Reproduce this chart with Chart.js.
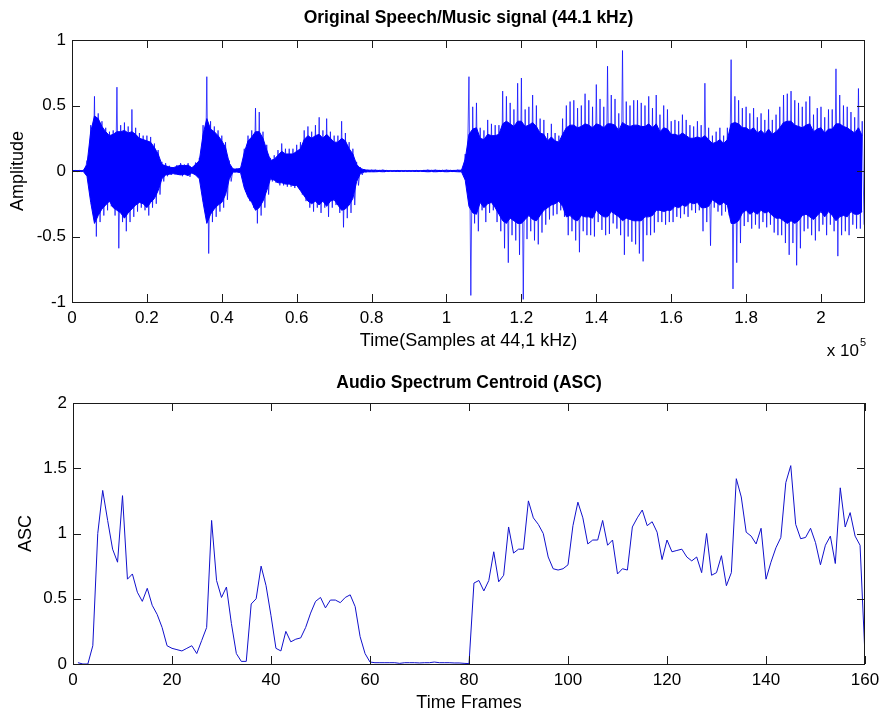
<!DOCTYPE html>
<html>
<head>
<meta charset="utf-8">
<title>Speech/Music signal and ASC</title>
<script src="https://cdn.jsdelivr.net/npm/chart.js@4.4.1/dist/chart.umd.min.js"></script>
<style>
  html, body { margin: 0; padding: 0; background: #fff; }
  #wrap { position: relative; width: 880px; height: 713px; overflow: hidden; }
  canvas { position: absolute; left: 0; }
  #signal { top: 0; }
  #asc { top: 360px; }
</style>
</head>
<body>
<div id="wrap">
  <canvas id="signal" width="880" height="360"></canvas>
  <canvas id="asc" width="880" height="353"></canvas>
</div>
<script>
// Waveform, one value every 0.01 x 10^5 samples (0 .. 2.11).
// waveHigh/waveLow: outer spikes; coreHigh/coreLow: the dense solid part.
const waveStep = 0.01;
const waveHigh = [
  0.005, 0.005, 0.005, 0.005, 0.08, 0.35, 0.57, 0.44, 0.38, 0.33,
  0.30, 0.31, 0.64, 0.35, 0.37, 0.34, 0.47, 0.33, 0.29, 0.27,
  0.27, 0.26, 0.21, 0.16, 0.07, 0.06, 0.04, 0.03, 0.045, 0.06,
  0.05, 0.06, 0.03, 0.065, 0.10, 0.35, 0.72, 0.38, 0.34, 0.31,
  0.27, 0.22, 0.08, 0.02, 0.02, 0.025, 0.17, 0.27, 0.31, 0.48,
  0.45, 0.30, 0.20, 0.10, 0.12, 0.16, 0.21, 0.17, 0.17, 0.17,
  0.20, 0.22, 0.31, 0.34, 0.30, 0.35, 0.41, 0.31, 0.40, 0.30,
  0.27, 0.27, 0.38, 0.29, 0.22, 0.17, 0.07, 0.03, 0.015, 0.01,
  0.01, 0.01, 0.008, 0.01, 0.005, 0.004, 0.004, 0.005, 0.004, 0.004,
  0.004, 0.004, 0.005, 0.004, 0.008, 0.01, 0.008, 0.01, 0.008, 0.008,
  0.01, 0.008, 0.008, 0.01, 0.01, 0.13, 0.72, 0.49, 0.52, 0.33,
  0.31, 0.39, 0.36, 0.35, 0.35, 0.61, 0.57, 0.52, 0.47, 0.67,
  0.71, 0.47, 0.49, 0.58, 0.50, 0.40, 0.39, 0.29, 0.36, 0.29,
  0.27, 0.40, 0.50, 0.53, 0.54, 0.48, 0.50, 0.59, 0.54, 0.49,
  0.66, 0.55, 0.49, 0.80, 0.58, 0.55, 0.44, 0.92, 0.53, 0.50,
  0.54, 0.54, 0.52, 0.50, 0.57, 0.48, 0.58, 0.43, 0.50, 0.47,
  0.38, 0.39, 0.38, 0.43, 0.39, 0.35, 0.34, 0.38, 0.35, 0.67,
  0.33, 0.27, 0.30, 0.33, 0.27, 0.33, 0.85, 0.57, 0.54, 0.48,
  0.49, 0.44, 0.48, 0.41, 0.44, 0.39, 0.47, 0.39, 0.43, 0.49,
  0.58, 0.59, 0.61, 0.54, 0.52, 0.49, 0.53, 0.57, 0.43, 0.48,
  0.49, 0.41, 0.47, 0.47, 0.78, 0.58, 0.50, 0.49, 0.45, 0.41, 0.63, 0.38
];
const waveLow = [
  -0.005, -0.005, -0.005, -0.005, -0.06, -0.28, -0.50, -0.39, -0.34, -0.30,
  -0.27, -0.34, -0.59, -0.39, -0.46, -0.39, -0.35, -0.31, -0.28, -0.30,
  -0.34, -0.28, -0.25, -0.18, -0.08, -0.04, -0.03, -0.025, -0.03, -0.04,
  -0.03, -0.045, -0.02, -0.04, -0.08, -0.28, -0.63, -0.39, -0.35, -0.31,
  -0.28, -0.22, -0.08, -0.01, -0.01, -0.015, -0.16, -0.23, -0.28, -0.40,
  -0.34, -0.28, -0.18, -0.08, -0.09, -0.11, -0.11, -0.12, -0.12, -0.13,
  -0.13, -0.18, -0.23, -0.28, -0.31, -0.28, -0.32, -0.28, -0.35, -0.28,
  -0.26, -0.32, -0.43, -0.36, -0.32, -0.26, -0.11, -0.03, -0.01, -0.008,
  -0.008, -0.008, -0.006, -0.008, -0.004, -0.003, -0.003, -0.004, -0.003, -0.003,
  -0.003, -0.003, -0.004, -0.003, -0.006, -0.008, -0.006, -0.008, -0.006, -0.006,
  -0.008, -0.006, -0.006, -0.008, -0.008, -0.10, -0.95, -0.40, -0.46, -0.30,
  -0.39, -0.32, -0.30, -0.39, -0.46, -0.59, -0.70, -0.49, -0.53, -0.64,
  -0.98, -0.52, -0.46, -0.53, -0.56, -0.47, -0.41, -0.37, -0.34, -0.33,
  -0.30, -0.35, -0.49, -0.46, -0.53, -0.62, -0.46, -0.49, -0.49, -0.50,
  -0.39, -0.45, -0.49, -0.48, -0.40, -0.44, -0.49, -0.64, -0.50, -0.54,
  -0.56, -0.63, -0.69, -0.49, -0.49, -0.47, -0.39, -0.39, -0.41, -0.39,
  -0.39, -0.35, -0.36, -0.33, -0.35, -0.30, -0.32, -0.30, -0.46, -0.39,
  -0.57, -0.28, -0.31, -0.34, -0.31, -0.34, -0.90, -0.70, -0.55, -0.42,
  -0.39, -0.44, -0.41, -0.44, -0.39, -0.43, -0.41, -0.47, -0.49, -0.49,
  -0.55, -0.64, -0.55, -0.72, -0.59, -0.46, -0.44, -0.49, -0.53, -0.46,
  -0.41, -0.49, -0.41, -0.46, -0.65, -0.49, -0.46, -0.49, -0.41, -0.44, -0.44, -0.41
];
const coreHigh = [
  0.003, 0.003, 0.003, 0.003, 0.05, 0.30, 0.42, 0.40, 0.34, 0.30,
  0.27, 0.28, 0.30, 0.30, 0.31, 0.29, 0.30, 0.28, 0.25, 0.24,
  0.23, 0.22, 0.18, 0.13, 0.05, 0.04, 0.03, 0.025, 0.035, 0.045,
  0.04, 0.045, 0.025, 0.05, 0.08, 0.28, 0.40, 0.32, 0.30, 0.27,
  0.23, 0.18, 0.06, 0.015, 0.015, 0.02, 0.14, 0.23, 0.26, 0.30,
  0.30, 0.25, 0.16, 0.08, 0.09, 0.12, 0.15, 0.13, 0.13, 0.13,
  0.15, 0.17, 0.24, 0.27, 0.25, 0.27, 0.28, 0.25, 0.28, 0.25,
  0.22, 0.22, 0.25, 0.23, 0.17, 0.13, 0.05, 0.02, 0.01, 0.006,
  0.006, 0.006, 0.004, 0.006, 0.003, 0.002, 0.002, 0.003, 0.002, 0.002,
  0.002, 0.002, 0.003, 0.002, 0.004, 0.006, 0.004, 0.006, 0.004, 0.004,
  0.006, 0.004, 0.004, 0.006, 0.006, 0.09, 0.28, 0.32, 0.33, 0.25,
  0.24, 0.28, 0.27, 0.27, 0.28, 0.36, 0.38, 0.36, 0.34, 0.38,
  0.38, 0.34, 0.35, 0.37, 0.34, 0.29, 0.28, 0.23, 0.26, 0.23,
  0.22, 0.28, 0.33, 0.35, 0.35, 0.33, 0.34, 0.36, 0.35, 0.33,
  0.36, 0.35, 0.33, 0.36, 0.36, 0.35, 0.31, 0.37, 0.35, 0.34,
  0.35, 0.35, 0.34, 0.34, 0.36, 0.33, 0.36, 0.30, 0.33, 0.32,
  0.28, 0.28, 0.27, 0.29, 0.27, 0.25, 0.25, 0.26, 0.25, 0.27,
  0.24, 0.21, 0.22, 0.24, 0.21, 0.24, 0.36, 0.37, 0.36, 0.33,
  0.33, 0.31, 0.33, 0.29, 0.31, 0.28, 0.32, 0.28, 0.30, 0.33,
  0.37, 0.38, 0.38, 0.35, 0.34, 0.33, 0.35, 0.36, 0.30, 0.32,
  0.33, 0.29, 0.32, 0.32, 0.36, 0.36, 0.34, 0.33, 0.31, 0.29, 0.33, 0.27
];
const coreLow = [
  -0.003, -0.003, -0.003, -0.003, -0.04, -0.24, -0.40, -0.34, -0.29, -0.26,
  -0.23, -0.28, -0.30, -0.32, -0.36, -0.32, -0.29, -0.26, -0.24, -0.25,
  -0.28, -0.24, -0.21, -0.15, -0.06, -0.03, -0.025, -0.02, -0.025, -0.03,
  -0.025, -0.035, -0.015, -0.03, -0.06, -0.24, -0.40, -0.33, -0.29, -0.26,
  -0.24, -0.18, -0.06, -0.008, -0.008, -0.012, -0.13, -0.20, -0.24, -0.30,
  -0.28, -0.23, -0.15, -0.06, -0.07, -0.09, -0.09, -0.10, -0.10, -0.11,
  -0.11, -0.15, -0.19, -0.23, -0.25, -0.23, -0.26, -0.23, -0.27, -0.23,
  -0.22, -0.26, -0.30, -0.29, -0.26, -0.21, -0.08, -0.02, -0.008, -0.006,
  -0.006, -0.006, -0.004, -0.006, -0.003, -0.002, -0.002, -0.003, -0.002, -0.002,
  -0.002, -0.002, -0.003, -0.002, -0.004, -0.006, -0.004, -0.006, -0.004, -0.004,
  -0.006, -0.004, -0.004, -0.006, -0.006, -0.07, -0.27, -0.32, -0.33, -0.24,
  -0.28, -0.25, -0.24, -0.28, -0.33, -0.38, -0.40, -0.36, -0.38, -0.40,
  -0.40, -0.37, -0.34, -0.37, -0.38, -0.34, -0.30, -0.28, -0.26, -0.25,
  -0.23, -0.27, -0.35, -0.34, -0.37, -0.38, -0.34, -0.35, -0.35, -0.36,
  -0.30, -0.33, -0.35, -0.35, -0.31, -0.33, -0.35, -0.38, -0.36, -0.37,
  -0.38, -0.38, -0.38, -0.35, -0.35, -0.34, -0.30, -0.30, -0.31, -0.30,
  -0.30, -0.27, -0.28, -0.26, -0.27, -0.24, -0.25, -0.24, -0.28, -0.28,
  -0.27, -0.22, -0.24, -0.26, -0.24, -0.26, -0.40, -0.40, -0.38, -0.32,
  -0.30, -0.33, -0.31, -0.33, -0.30, -0.32, -0.31, -0.34, -0.36, -0.36,
  -0.38, -0.40, -0.38, -0.40, -0.38, -0.34, -0.33, -0.35, -0.37, -0.34,
  -0.31, -0.35, -0.31, -0.34, -0.38, -0.35, -0.34, -0.35, -0.31, -0.33, -0.33, -0.31
];

// Audio Spectrum Centroid, frames 1 .. 160.
const ascValues = [
  0.01, 0.00, 0.00, 0.14, 1.00, 1.33, 1.10, 0.88, 0.78, 1.29,
  0.65, 0.69, 0.55, 0.48, 0.58, 0.45, 0.38, 0.28, 0.14, 0.12,
  0.11, 0.10, 0.12, 0.14, 0.08, 0.18, 0.28, 1.10, 0.64, 0.51,
  0.59, 0.31, 0.08, 0.02, 0.02, 0.46, 0.50, 0.75, 0.60, 0.37,
  0.12, 0.10, 0.25, 0.17, 0.19, 0.20, 0.28, 0.39, 0.48, 0.51,
  0.43, 0.49, 0.49, 0.47, 0.51, 0.53, 0.44, 0.21, 0.08, 0.015,
  0.01, 0.01, 0.01, 0.01, 0.01, 0.005, 0.01, 0.01, 0.01, 0.008,
  0.01, 0.01, 0.015, 0.01, 0.01, 0.01, 0.008, 0.008, 0.005, 0.003,
  0.62, 0.64, 0.56, 0.64, 0.86, 0.63, 0.68, 1.05, 0.85, 0.88,
  0.88, 1.25, 1.12, 1.07, 1.00, 0.82, 0.73, 0.72, 0.73, 0.76,
  1.06, 1.24, 1.12, 0.92, 0.95, 0.95, 1.10, 0.91, 0.95, 0.69,
  0.73, 0.72, 1.05, 1.12, 1.18, 1.06, 1.09, 1.01, 0.80, 0.95,
  0.86, 0.87, 0.88, 0.82, 0.79, 0.82, 0.70, 1.00, 0.68, 0.70,
  0.83, 0.60, 0.70, 1.42, 1.28, 1.01, 0.98, 0.92, 1.04, 0.65,
  0.78, 0.89, 0.97, 1.39, 1.52, 1.07, 0.96, 0.97, 1.04, 0.93,
  0.76, 0.91, 0.98, 0.77, 1.35, 1.05, 1.16, 0.98, 0.91, 0.06
];

const signalXMax = 2.1175;   // x 10^5 samples
const FONT = "'Liberation Sans', Arial, Helvetica, sans-serif";
const AXIS_COLOR = '#1a1a1a';
const TICK_LEN = 8;
const WAVE_BLUE = '#0000ff';
const SPIKE_BLUE = 'rgba(0, 0, 255, 0.7)';
const ASC_BLUE = '#1010cc';

function tickText(v) {
  return String(Math.round(v * 100) / 100);
}

// MATLAB style box: frame, inward ticks on every side, titles and labels.
const matlabFrame = {
  id: 'matlabFrame',
  afterDatasetsDraw(chart, args, opts) {
    const ctx = chart.ctx;
    const a = chart.chartArea;
    const xs = chart.scales.x, ys = chart.scales.y;
    ctx.save();
    ctx.strokeStyle = AXIS_COLOR;
    ctx.lineWidth = 1;
    ctx.beginPath();
    xs.ticks.forEach(t => {
      const px = Math.round(xs.getPixelForValue(t.value)) + 0.5;
      ctx.moveTo(px, a.bottom); ctx.lineTo(px, a.bottom - TICK_LEN);
      ctx.moveTo(px, a.top); ctx.lineTo(px, a.top + TICK_LEN);
    });
    ys.ticks.forEach(t => {
      const py = Math.round(ys.getPixelForValue(t.value)) + 0.5;
      ctx.moveTo(a.left, py); ctx.lineTo(a.left + TICK_LEN, py);
      ctx.moveTo(a.right, py); ctx.lineTo(a.right - TICK_LEN, py);
    });
    ctx.stroke();
    ctx.strokeRect(Math.round(a.left) + 0.5, Math.round(a.top) + 0.5,
                   Math.round(a.width) - 1, Math.round(a.height));

    const cx = (a.left + a.right) / 2;
    ctx.fillStyle = '#000';
    ctx.textAlign = 'center';
    ctx.textBaseline = 'alphabetic';
    ctx.font = 'bold 17.5px ' + FONT;
    ctx.fillText(opts.title, cx, a.top - opts.titleGap);
    ctx.font = '18px ' + FONT;
    ctx.fillText(opts.xLabel, cx, a.bottom + opts.xLabelGap);

    if (opts.exponent) {
      ctx.textAlign = 'right';
      ctx.font = '17px ' + FONT;
      ctx.fillText('x 10', a.right - 6, a.bottom + 54);
      ctx.textAlign = 'left';
      ctx.font = '11px ' + FONT;
      ctx.fillText(opts.exponent, a.right - 5, a.bottom + 44);
    }

    ctx.font = '18px ' + FONT;
    ctx.translate(opts.yLabelX, (a.top + a.bottom) / 2);
    ctx.rotate(-Math.PI / 2);
    ctx.textAlign = 'center';
    ctx.textBaseline = 'middle';
    ctx.fillText(opts.yLabel, 0, 0);
    ctx.restore();
  }
};

function axisTicks(extra) {
  return Object.assign({
    color: '#000',
    font: { family: FONT, size: 17 },
    maxRotation: 0,
    autoSkip: false,
    includeBounds: false,
    callback: tickText
  }, extra);
}

// keep label overflow from shrinking the plot box
function fixedX(h) {
  return s => { s.height = h; s.paddingLeft = 0; s.paddingRight = 0; };
}
function fixedY(w) {
  return s => { s.width = w; s.paddingTop = 0; s.paddingBottom = 0; };
}

// ---- top chart: waveform ----
const spikePoints = [];
waveHigh.forEach((hi, i) => {
  spikePoints.push({ x: i * waveStep, y: hi });
  spikePoints.push({ x: i * waveStep + waveStep / 2, y: waveLow[i] });
});
const coreHighPts = coreHigh.map((v, i) => ({ x: i * waveStep, y: v }));
const coreLowPts = coreLow.map((v, i) => ({ x: i * waveStep, y: v }));

new Chart(document.getElementById('signal'), {
  type: 'line',
  data: {
    datasets: [
      { data: coreHighPts, borderColor: WAVE_BLUE, borderWidth: 1, pointRadius: 0, backgroundColor: WAVE_BLUE, fill: '+1', tension: 0 },
      { data: coreLowPts, borderColor: WAVE_BLUE, borderWidth: 1, pointRadius: 0, backgroundColor: WAVE_BLUE, fill: false, tension: 0 },
      { data: spikePoints, borderColor: SPIKE_BLUE, borderWidth: 1, pointRadius: 0, fill: false, tension: 0 }
    ]
  },
  options: {
    responsive: false,
    animation: false,
    events: [],
    layout: { padding: { top: 40, right: 15, left: 0, bottom: 0 } },
    plugins: {
      legend: { display: false },
      tooltip: { enabled: false },
      matlabFrame: {
        title: 'Original Speech/Music signal (44.1 kHz)', titleGap: 17,
        xLabel: 'Time(Samples at 44,1 kHz)', xLabelGap: 44,
        yLabel: 'Amplitude', yLabelX: 18,
        exponent: '5'
      }
    },
    scales: {
      x: {
        type: 'linear', min: 0, max: signalXMax,
        ticks: axisTicks({ stepSize: 0.2, padding: 6 }),
        grid: { display: false, drawTicks: false },
        border: { display: false },
        afterFit: fixedX(58)
      },
      y: {
        min: -1, max: 1,
        ticks: axisTicks({ stepSize: 0.5, padding: 6 }),
        grid: { display: false, drawTicks: false },
        border: { display: false },
        afterFit: fixedY(72)
      }
    }
  },
  plugins: [matlabFrame]
});

// ---- bottom chart: ASC ----
new Chart(document.getElementById('asc'), {
  type: 'line',
  data: {
    datasets: [{
      data: ascValues.map((v, i) => ({ x: i + 1, y: v })),
      borderColor: ASC_BLUE, borderWidth: 1, pointRadius: 0, fill: false, tension: 0
    }]
  },
  options: {
    responsive: false,
    animation: false,
    events: [],
    layout: { padding: { top: 43, right: 15, left: 0, bottom: 0 } },
    plugins: {
      legend: { display: false },
      tooltip: { enabled: false },
      matlabFrame: {
        title: 'Audio Spectrum Centroid (ASC)', titleGap: 15,
        xLabel: 'Time Frames', xLabelGap: 44,
        yLabel: 'ASC', yLabelX: 26
      }
    },
    scales: {
      x: {
        type: 'linear', min: 0, max: 160,
        ticks: axisTicks({ stepSize: 20, padding: 6 }),
        grid: { display: false, drawTicks: false },
        border: { display: false },
        afterFit: fixedX(49)
      },
      y: {
        min: 0, max: 2,
        ticks: axisTicks({ stepSize: 0.5, padding: 6 }),
        grid: { display: false, drawTicks: false },
        border: { display: false },
        afterFit: fixedY(73)
      }
    }
  },
  plugins: [matlabFrame]
});
</script>
</body>
</html>
